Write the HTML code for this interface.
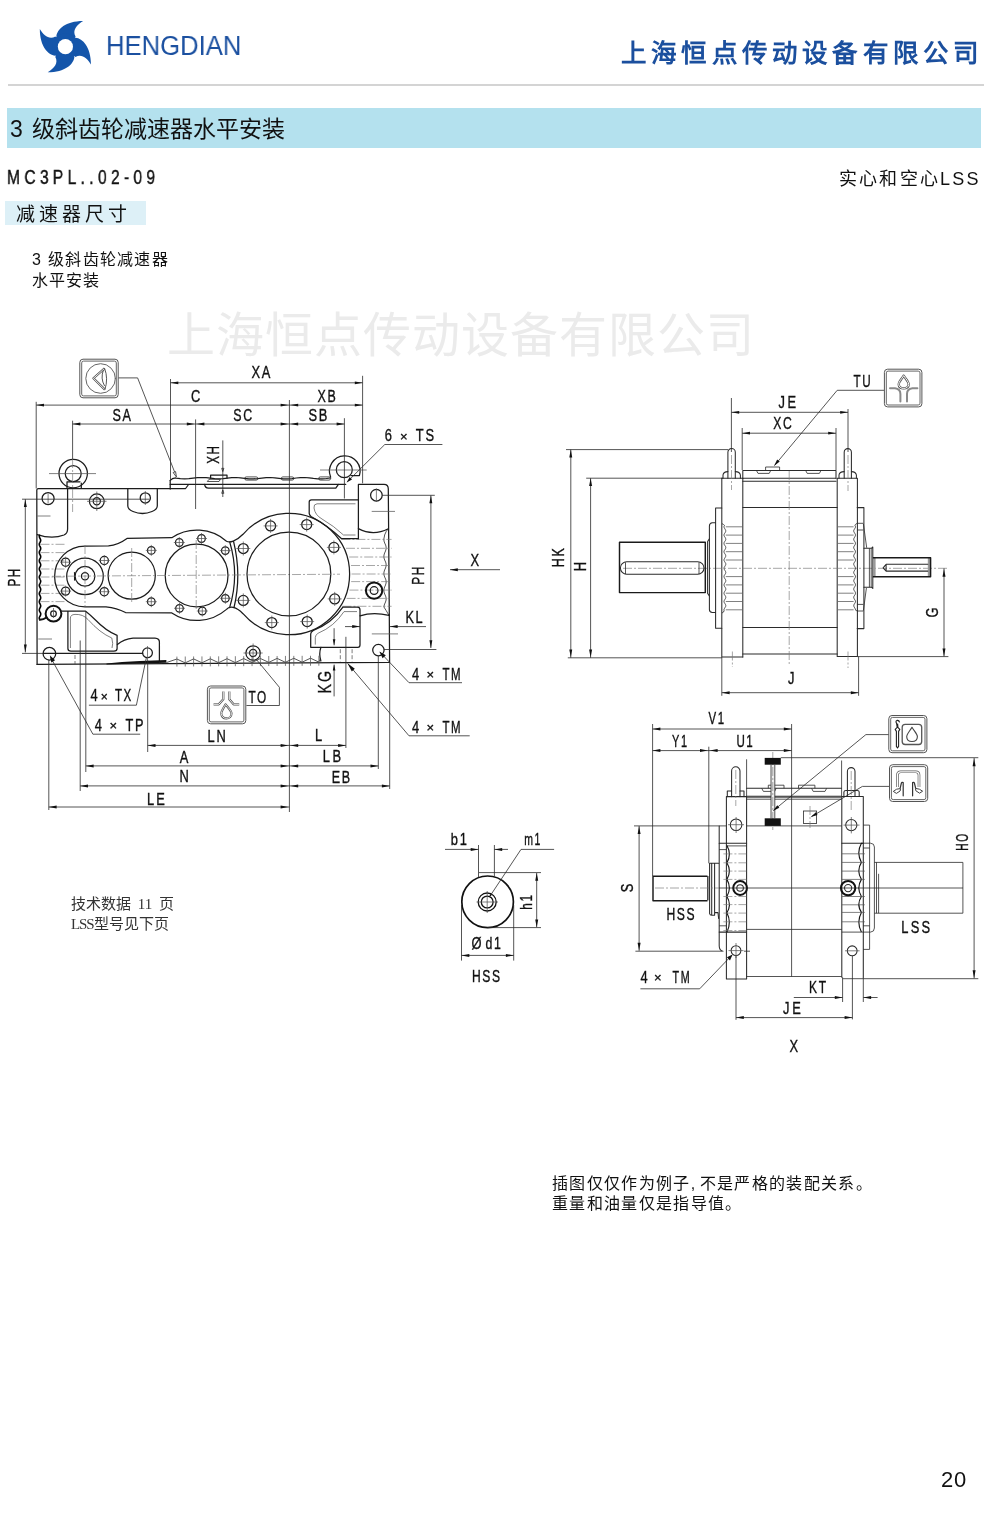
<!DOCTYPE html>
<html lang="zh-CN">
<head>
<meta charset="utf-8">
<title>3 级斜齿轮减速器水平安装 MC3PL..02-09</title>
<style>
html,body{margin:0;padding:0;background:#fff;}
body{width:990px;height:1513px;position:relative;overflow:hidden;font-family:"Liberation Sans",sans-serif;color:#111;}
.abs{position:absolute;white-space:nowrap;line-height:1;}
#brand{left:106px;top:33px;font-size:27px;color:#1b50a0;transform-origin:0 0;transform:scaleX(.95);letter-spacing:0;}
#corp{right:7px;top:41px;font-family:"Liberation Serif",serif;font-weight:bold;font-size:25.5px;color:#1b4f9e;letter-spacing:4.2px;}
#hr{left:8px;top:84.2px;width:976px;height:1.6px;background:#d4d4d4;}
#bar{left:6.5px;top:108px;width:974px;height:39.6px;background:#b4e1ee;}
#title{left:10px;top:118px;font-size:23px;word-spacing:3px;color:#111;}
#model{left:7px;top:168px;font-size:19.5px;letter-spacing:5.4px;color:#111;transform-origin:0 0;transform:scaleX(.8);-webkit-text-stroke:.4px #111;}
#lss{right:9px;top:170px;font-size:18px;letter-spacing:2.2px;color:#111;}
#sub{left:4.5px;top:201.2px;width:141px;height:24px;background:#ddf0f7;}
#subt{left:16px;top:205px;font-size:19px;letter-spacing:4px;color:#111;}
#cap1{left:32px;top:251.5px;font-size:16px;letter-spacing:1.3px;color:#111;}
#cap2{left:32px;top:272.5px;font-size:16px;letter-spacing:1.1px;color:#111;}
#wm{left:167px;top:312px;font-size:48px;color:#ebebeb;font-weight:normal;letter-spacing:1px;}
#note1{left:71px;top:895.3px;font-family:"Liberation Serif",serif;font-size:15px;color:#333;line-height:19.6px;white-space:pre;letter-spacing:0;word-spacing:3px;}
#note2{left:552px;top:1173.6px;font-size:16px;color:#111;line-height:20.2px;letter-spacing:1.35px;}
#pg{left:941px;top:1468.5px;font-size:22px;letter-spacing:.8px;color:#111;}
svg{position:absolute;left:0;top:0;}
#dwg,.abs{will-change:transform;}
.o{fill:none;stroke:#1c1c1c;stroke-width:1.25;stroke-linejoin:round;stroke-linecap:round;}
#rt-view .o,#rb-view .o{stroke-width:1.05;stroke:#2b2b2b;}
.o2{fill:none;stroke:#1a1a1a;stroke-width:1.45;stroke-linejoin:round;}
.k{fill:none;stroke:#111;stroke-width:2;stroke-linejoin:round;stroke-linecap:round;}
.t{fill:none;stroke:#2a2a2a;stroke-width:.8;}
.c{fill:none;stroke:#777;stroke-width:.65;stroke-dasharray:9 2 2 2;}
.d{fill:none;stroke:#444;stroke-width:.7;stroke-dasharray:4 2;}
.g{fill:none;stroke:#555;stroke-width:.75;}
.f{fill:#111;stroke:none;}
.lb{font-family:"Liberation Sans",sans-serif;fill:#111;stroke:#111;stroke-width:.35;}
.ib{fill:#fff;stroke:#555;stroke-width:1;}
.ig{fill:none;stroke:#666;stroke-width:1;stroke-linecap:round;stroke-linejoin:round;}
</style>
</head>
<body>
<svg id="logo" width="110" height="84" viewBox="0 0 110 84" aria-hidden="true">
 <g transform="translate(65.4 46.7)" fill="#1455aa">
  <g id="bl"><path d="M-9 -10.2C-8.3 -17.2 0 -25.5 17.7 -25.6C11.3 -21.6 6.6 -16.3 10.2 -10L0 0Z"/></g>
  <use href="#bl" transform="rotate(90)"/><use href="#bl" transform="rotate(180)"/><use href="#bl" transform="rotate(270)"/>
  <circle r="13.2"/>
  <circle r="7.6" fill="#fff"/>
 </g>
</svg>
<div id="brand" class="abs">HENGDIAN</div>
<div id="corp" class="abs">上海恒点传动设备有限公司</div>
<div id="hr" class="abs"></div>
<div id="bar" class="abs"></div>
<div id="title" class="abs">3 级斜齿轮减速器水平安装</div>
<div id="model" class="abs">MC3PL..02-09</div>
<div id="lss" class="abs">实心和空心LSS</div>
<div id="sub" class="abs"></div>
<div id="subt" class="abs">减速器尺寸</div>
<div id="cap1" class="abs">3 级斜齿轮减速器</div>
<div id="cap2" class="abs">水平安装</div>
<div id="wm" class="abs">上海恒点传动设备有限公司</div>
<svg id="dwg" width="990" height="1513" viewBox="0 0 990 1513">
<g id="left-view">
<path class="o" d="M37.1 664.4L36.8 490Q36.8 488.5 38.3 488.5H185.6L188.2 485"/>
<path class="o" d="M37.1 664.4L389.6 662.3L389.3 615.2"/>
<path class="o" d="M67.6 488.6V529Q67.6 533.5 64 535Q52 539.5 37.3 534.6"/>
<path class="g" d="M37.3 516L50.5 516"/>
<path class="g" d="M38.3 639L52 639"/>
<path class="o" style="stroke-width:1.6;stroke:#000" d="M39.5 535.2L39.3 536.2L39.5 537.3L40.0 538.3L40.5 539.3L40.7 540.3L40.5 541.4L40.0 542.4L39.4 543.4L39.3 544.5L39.5 545.5L40.0 546.5L40.6 547.6L40.7 548.6L40.5 549.6L39.9 550.6L39.4 551.7L39.3 552.7L39.5 553.7L40.1 554.8L40.6 555.8L40.7 556.8L40.5 557.8L39.9 558.9L39.4 559.9L39.3 560.9L39.5 562.0L40.1 563.0L40.6 564.0L40.7 565.0L40.5 566.1L39.9 567.1L39.4 568.1L39.3 569.2L39.5 570.2L40.1 571.2L40.6 572.3L40.7 573.3L40.4 574.3L39.9 575.3L39.4 576.4L39.3 577.4L39.6 578.4L40.1 579.5L40.6 580.5L40.7 581.5L40.4 582.5L39.9 583.6L39.4 584.6L39.3 585.6L39.6 586.7L40.1 587.7L40.6 588.7L40.7 589.8L40.4 590.8L39.9 591.8L39.4 592.8L39.3 593.9L39.6 594.9L40.2 595.9L40.6 597.0L40.7 598.0L40.4 599.0L39.8 600.0L39.4 601.1L39.3 602.1L39.6 603.1L40.2 604.2L40.6 605.2L40.7 606.2L40.4 607.2L39.8 608.3L39.4 609.3L39.3 610.3L39.6 611.4L40.2 612.4L40.7 613.4L40.7 614.5L40.4 615.5L39.8 616.5L39.3 617.5L39.3 618.6L39.6 619.6"/>
<path class="c" d="M40.5 544.3L66.5 544.3"/>
<path class="c" d="M40.5 552.6L66.5 552.6"/>
<path class="c" d="M40.5 560.8L66.5 560.8"/>
<path class="c" d="M40.5 569L66.5 569"/>
<path class="c" d="M40.5 577L66.5 577"/>
<path class="c" d="M40.5 585.2L66.5 585.2"/>
<path class="c" d="M40.5 593.4L66.5 593.4"/>
<path class="c" d="M40.5 601.6L66.5 601.6"/>
<circle class="o" cx="73.2" cy="473.6" r="14.2"/>
<circle class="o" cx="73.2" cy="473.6" r="8"/>
<path class="g" d="M49 473.6L96 473.6"/>
<path class="o" d="M67 481.8V488.4M81.3 483V488.4M67 481.8H80"/>
<circle class="o" cx="48.1" cy="498.5" r="6"/>
<path class="g" d="M48.1 493.5L48.1 503.5"/>
<circle class="o" cx="96.8" cy="501.3" r="7.4"/>
<circle class="o" cx="96.8" cy="501.3" r="3.6"/>
<path class="g" d="M87 501.3L106.5 501.3"/>
<path class="g" d="M96.8 491.5L96.8 511"/>
<circle class="o" cx="145.3" cy="497.9" r="5.1"/>
<path class="g" d="M145.3 491L145.3 505"/>
<path class="o" d="M127.8 488.6V506Q128 509.5 133 511.5Q142.5 515.5 152 511.5Q157.1 509.5 157.3 506V488.6"/>
<path class="o" d="M170.2 489V480.4"/>
<path class="o" d="M170.2 484.4H345.7"/>
<path class="o" d="M204.6 484.4Q205 488.1 208.5 488.1H335.8L338.4 484.4"/>
<path class="o" d="M170.2 480.5Q172 478 175.8 477.9L176.0 478.2L180.3 478.7L184.6 478.9L188.9 478.7L193.2 478.2L197.5 477.7L201.8 477.5L206.1 477.7L210.4 478.2L214.7 478.7L218.9 478.9L223.2 478.6L227.5 478.1L231.8 477.7L236.1 477.5L240.4 477.8L244.7 478.3L249.0 478.8L253.3 478.9L257.6 478.6L261.9 478.1L266.2 477.6L270.5 477.5L274.8 477.8L279.1 478.3L283.4 478.8L287.7 478.9L292.0 478.6L296.2 478.0L300.5 477.6L304.8 477.5L309.1 477.8L313.4 478.4L317.7 478.8L322.0 478.9L326.3 478.5L330.6 478.0"/>
<path class="o" d="M210.6 478.2V475.2H227V478.2"/>
<path class="t" d="M207.3 481.5L209 479.3H220.4L219 481.5Z"/>
<rect class="t" x="244.7" y="476.9" width="13.1" height="3.2" rx="1.6"/>
<rect class="t" x="281.3" y="476.9" width="12.5" height="3.2" rx="1.6"/>
<rect class="t" x="318.7" y="476.9" width="11.9" height="3.2" rx="1.6"/>
<path class="o" d="M330.6 476.9A15.3 15.3 0 1 1 359.4 475.6H351"/>
<circle class="o" cx="344.3" cy="469.7" r="8"/>
<path class="g" d="M320 470L366.7 470"/>
<path class="o" d="M358.4 538.7V484.4H384Q388.3 484.4 388.3 489L389.3 615.2"/>
<path class="o" d="M358.4 528.6Q373 536.4 388.3 528.7"/>
<circle class="o" cx="376.4" cy="495.2" r="5.8"/>
<path class="g" d="M376.4 488.5L376.4 502"/>
<path class="g" d="M371.7 511.4L395 511.4"/>
<path class="t" d="M388.3 528.7L386.2 531.5L384.6 535.0L384.3 537.0L384.0 538.0L383.9 539.0L383.9 540.0L384.0 541.0L384.3 542.0L384.7 543.0L385.1 544.0L385.6 545.0L385.9 546.0L386.1 547.0L386.1 548.0L386.1 549.0L385.8 550.0L385.5 551.0L385.1 552.0L384.6 553.0L384.3 554.0L384.0 555.0L383.9 556.0L383.9 557.0L384.0 558.0L384.3 559.0L384.7 560.0L385.1 561.0L385.6 562.0L385.9 563.0L386.1 564.0L386.1 565.0L386.1 566.0L385.8 567.0L385.5 568.0L385.1 569.0L384.6 570.0L384.3 571.0L384.0 572.0L383.9 573.0L383.9 574.0L384.0 575.0L384.3 576.0L384.7 577.0L385.1 578.0L385.6 579.0L385.9 580.0L386.1 581.0L386.1 582.0L386.1 583.0L385.8 584.0L385.5 585.0L385.1 586.0L384.6 587.0L384.3 588.0L384.0 589.0L383.9 590.0L383.9 591.0L384.0 592.0L384.3 593.0L384.7 594.0L385.1 595.0L385.6 596.0L385.9 597.0L386.1 598.0L386.1 599.0L386.1 600.0L385.8 601.0L385.5 602.0L385.1 603.0L384.6 604.0L384.3 605.0L384.0 606.0L383.9 607.0L386.2 610.6L388.9 615.2"/>
<path class="c" d="M341.4 539.4L391.6 539.4"/>
<path class="c" d="M345.993 548.3L391.6 548.3"/>
<path class="c" d="M349.212 557L391.6 557"/>
<path class="c" d="M351.012 565.5L391.6 565.5"/>
<path class="c" d="M351.6 574L391.6 574"/>
<path class="c" d="M351.13 581.6L391.6 581.6"/>
<path class="c" d="M349.462 590.1L391.6 590.1"/>
<path class="c" d="M346.57 598.4L391.6 598.4"/>
<path class="c" d="M342.47 606.3L391.6 606.3"/>
<path class="o" d="M358.5 499.8H311.5Q309.2 499.8 309.2 502V513.4Q309.3 515 311 516.5 Q327 525 341.6 538.7H358.5"/>
<path class="g" d="M355.5 503.8H317Q313.5 504 314 508 Q315 515 322 519Q334 526 343.5 535H355.5"/>
<circle class="k" cx="374.1" cy="590.6" r="8.2"/>
<circle class="o" cx="374.1" cy="590.6" r="3.9"/>
<path class="o" d="M360 615.8Q373 611.6 389 615.3"/>
<path class="o" d="M342.9 607.2H357.3Q360 607.2 360 610V645Q360 647.3 357.8 647.3H310.7V634Q310.7 632 313.3 630.4A62.5 62.5 0 0 0 342.9 607.2"/>
<path class="g" d="M315.3 644.6V637.5Q315.3 635 318 633.3A58 58 0 0 0 344 611.6H357"/>
<path class="o" d="M320.9 647.3Q318.6 654 320.9 661"/>
<path class="d" d="M340.3 649.2L340.3 661.5"/>
<path class="d" d="M352.1 649.2L352.1 661.5"/>
<circle class="o" cx="378.4" cy="650.1" r="5.7"/>
<path class="g" d="M371.8 633.9L398 633.9"/>
<path class="o" d="M85 546L108.5 545.8Q118 545 127 538.4L171.8 537.7A45.2 45.2 0 0 1 226.5 541.2C229.5 543 236 541.5 243 534.3A60.7 60.7 0 1 1 243 613.7C236 606.5 229.5 605.5 226.5 609.4A45.2 45.2 0 0 1 171.8 612.9L125.5 612.5Q117 608 106 606.8L85 606.8A30.4 30.4 0 0 1 85 546Z"/>
<path class="o" d="M229.8 542.2Q239.6 575 229.6 607.6"/>
<path class="o" d="M233.6 541.6Q241.8 575 234 607.6"/>
<circle class="o" cx="85" cy="576.3" r="18.3"/>
<circle class="o" cx="85" cy="576.3" r="9.9"/>
<circle class="o" cx="85" cy="576.3" r="3.6"/>
<path class="o" d="M74.6 572.6V580"/>
<circle class="o" cx="131.7" cy="575.6" r="23.6"/>
<circle class="o" cx="196.6" cy="575.4" r="31.4"/>
<circle class="o" cx="288.9" cy="574" r="41.9"/>
<circle class="o" cx="65.6" cy="562.2" r="4.1"/>
<path class="g" d="M60.1 562.2L71.1 562.2"/>
<path class="g" d="M65.6 556.7L65.6 567.7"/>
<circle class="o" cx="104.3" cy="560.5" r="4.1"/>
<path class="g" d="M98.8 560.5L109.8 560.5"/>
<path class="g" d="M104.3 555L104.3 566"/>
<circle class="o" cx="65.6" cy="591.1" r="4.1"/>
<path class="g" d="M60.1 591.1L71.1 591.1"/>
<path class="g" d="M65.6 585.6L65.6 596.6"/>
<circle class="o" cx="104.3" cy="591.7" r="4.1"/>
<path class="g" d="M98.8 591.7L109.8 591.7"/>
<path class="g" d="M104.3 586.2L104.3 597.2"/>
<circle class="o" cx="151.3" cy="550.4" r="3.8"/>
<path class="g" d="M145.8 550.4L156.8 550.4"/>
<path class="g" d="M151.3 544.9L151.3 555.9"/>
<circle class="o" cx="151.3" cy="601.7" r="3.8"/>
<path class="g" d="M145.8 601.7L156.8 601.7"/>
<path class="g" d="M151.3 596.2L151.3 607.2"/>
<circle class="o" cx="179.3" cy="542.5" r="3.8"/>
<path class="g" d="M173.8 542.5L184.8 542.5"/>
<path class="g" d="M179.3 537L179.3 548"/>
<circle class="o" cx="201.5" cy="538.5" r="3.8"/>
<path class="g" d="M196 538.5L207 538.5"/>
<path class="g" d="M201.5 533L201.5 544"/>
<circle class="o" cx="179.5" cy="608.3" r="3.8"/>
<path class="g" d="M174 608.3L185 608.3"/>
<path class="g" d="M179.5 602.8L179.5 613.8"/>
<circle class="o" cx="202.3" cy="611" r="3.8"/>
<path class="g" d="M196.8 611L207.8 611"/>
<path class="g" d="M202.3 605.5L202.3 616.5"/>
<circle class="o" cx="225.3" cy="550.6" r="3.8"/>
<path class="g" d="M219.8 550.6L230.8 550.6"/>
<path class="g" d="M225.3 545.1L225.3 556.1"/>
<circle class="o" cx="225.4" cy="598.3" r="3.8"/>
<path class="g" d="M219.9 598.3L230.9 598.3"/>
<path class="g" d="M225.4 592.8L225.4 603.8"/>
<circle class="o" cx="270.6" cy="525.9" r="5"/>
<path class="g" d="M263.6 525.9L277.6 525.9"/>
<path class="g" d="M270.6 518.9L270.6 532.9"/>
<circle class="o" cx="306.7" cy="524.6" r="5"/>
<path class="g" d="M299.7 524.6L313.7 524.6"/>
<path class="g" d="M306.7 517.6L306.7 531.6"/>
<circle class="o" cx="243.3" cy="548.5" r="5"/>
<path class="g" d="M236.3 548.5L250.3 548.5"/>
<path class="g" d="M243.3 541.5L243.3 555.5"/>
<circle class="o" cx="333.9" cy="547.4" r="5"/>
<path class="g" d="M326.9 547.4L340.9 547.4"/>
<path class="g" d="M333.9 540.4L333.9 554.4"/>
<circle class="o" cx="243.3" cy="600.4" r="5"/>
<path class="g" d="M236.3 600.4L250.3 600.4"/>
<path class="g" d="M243.3 593.4L243.3 607.4"/>
<circle class="o" cx="334.7" cy="598.9" r="5"/>
<path class="g" d="M327.7 598.9L341.7 598.9"/>
<path class="g" d="M334.7 591.9L334.7 605.9"/>
<circle class="o" cx="271.8" cy="622.6" r="5"/>
<path class="g" d="M264.8 622.6L278.8 622.6"/>
<path class="g" d="M271.8 615.6L271.8 629.6"/>
<circle class="o" cx="307.2" cy="621.6" r="5"/>
<path class="g" d="M300.2 621.6L314.2 621.6"/>
<path class="g" d="M307.2 614.6L307.2 628.6"/>
<path class="c" d="M52 576.3L340 574.2"/>
<path class="c" d="M85 545L85 606"/>
<path class="c" d="M131.7 548L131.7 603"/>
<path class="c" d="M196.2 540L196.2 610"/>
<circle class="k" cx="53.5" cy="613.7" r="7.9"/>
<circle class="o" cx="53.5" cy="613.7" r="2.8"/>
<path class="g" d="M53.5 608L53.5 618"/>
<path class="k" d="M40 619.8Q43.5 619.5 46.5 617.5"/>
<path class="o" d="M61.5 611H85.3Q90 614.5 95.2 619.8Q106 631 117.1 635.4V648.5Q117 651.2 114 651.2H71Q67.9 651.2 67.9 648.5V611"/>
<path class="g" d="M70.4 648V618Q70.5 614.6 75 614.4Q83 614 88 619.5Q100 633 111.8 638Q113.5 644 112 648"/>
<path class="o" d="M117.4 644.5Q124 639 133 638.2H155Q159.4 638.5 159.4 642V661.5"/>
<circle class="o" cx="49.4" cy="653.7" r="6.3"/>
<circle class="o" cx="147.5" cy="652.8" r="4.9"/>
<path class="o" d="M43.4 653.4H142.6"/>
<path class="g" d="M147.5 646L147.5 660"/>
<path class="d" d="M75 655L75 664"/>
<path class="f" d="M106.5 663.6L122 661.9L140 660.9L166.4 660.1L166.4 662.7L140 663.6L122 664.1L106.5 664.4Z"/>
<path class="t" d="M166.4 662.6L176.9 659.0L185.2 662.9L193.6 658.9L201.9 662.8L210.3 658.8L218.6 662.7L227.0 658.7L235.3 662.6L243.7 658.6L252.0 662.5L260.4 658.5L268.8 662.4L277.1 658.4L285.4 662.3L293.8 658.3L302.1 662.2L310.5 658.2L318.8 662.1L320.6 658.1"/>
<path class="g" d="M176.9 656.567L176.9 666.567"/>
<path class="g" d="M185.25 656.517L185.25 666.517"/>
<path class="g" d="M193.6 656.468L193.6 666.468"/>
<path class="g" d="M201.95 656.418L201.95 666.418"/>
<path class="g" d="M210.3 656.368L210.3 666.368"/>
<path class="g" d="M218.65 656.318L218.65 666.318"/>
<path class="g" d="M227 656.269L227 666.269"/>
<path class="g" d="M235.35 656.219L235.35 666.219"/>
<path class="g" d="M243.7 656.169L243.7 666.169"/>
<path class="g" d="M252.05 656.119L252.05 666.119"/>
<path class="g" d="M260.4 656.07L260.4 666.07"/>
<path class="g" d="M268.75 656.02L268.75 666.02"/>
<path class="g" d="M277.1 655.97L277.1 665.97"/>
<path class="g" d="M285.45 655.92L285.45 665.92"/>
<path class="g" d="M293.8 655.871L293.8 665.871"/>
<path class="g" d="M302.15 655.821L302.15 665.821"/>
<path class="g" d="M310.5 655.771L310.5 665.771"/>
<path class="g" d="M318.85 655.721L318.85 665.721"/>
<circle class="o" cx="253.1" cy="653" r="7.2"/>
<circle class="o" cx="253.1" cy="653" r="3.6"/>
<path class="g" d="M243.5 653L262.7 653"/>
<path class="g" d="M253.1 643.5L253.1 662.5"/>
</g>
<g id="left-dims">
<path class="t" d="M170.5 379L170.5 481"/>
<path class="t" d="M362.6 375.8L362.6 483.3"/>
<path class="t" d="M170.5 382.8L362.6 382.8"/>
<path class="f" d="M170.5 382.8L178.3 381.4L178.3 384.2Z"/>
<path class="f" d="M362.6 382.8L354.8 384.2L354.8 381.4Z"/>
<text class="lb" transform="translate(251.5 377.9) scale(0.81 1)" font-size="15.9" letter-spacing="2.00">XA</text>
<path class="t" d="M36.2 401.8L36.2 488.4"/>
<path class="t" d="M36.2 405.1L362.6 405.1"/>
<path class="f" d="M36.2 405.1L44.0 403.7L44.0 406.6Z"/>
<path class="f" d="M288.4 405.1L280.6 406.6L280.6 403.7Z"/>
<path class="f" d="M290.4 405.1L298.2 403.7L298.2 406.6Z"/>
<path class="f" d="M362.6 405.1L354.8 406.6L354.8 403.7Z"/>
<text class="lb" transform="translate(191 401.8) scale(0.81 1)" font-size="15.9" letter-spacing="0.00">C</text>
<text class="lb" transform="translate(317.6 401.5) scale(0.783 1)" font-size="15.9" letter-spacing="2.03">XB</text>
<path class="t" d="M72.6 420.7L72.6 459"/>
<path class="c" d="M72.6 459L72.6 512"/>
<path class="t" d="M195.6 419.4L195.6 509"/>
<path class="t" d="M344.4 418.2L344.4 498.5"/>
<path class="t" d="M72.6 424L344.4 424"/>
<path class="f" d="M72.6 424.0L80.4 422.6L80.4 425.4Z"/>
<path class="f" d="M194.6 424.0L186.8 425.4L186.8 422.6Z"/>
<path class="f" d="M196.6 424.0L204.4 422.6L204.4 425.4Z"/>
<path class="f" d="M288.4 424.0L280.6 425.4L280.6 422.6Z"/>
<path class="f" d="M290.4 424.0L298.2 422.6L298.2 425.4Z"/>
<path class="f" d="M344.4 424.0L336.6 425.4L336.6 422.6Z"/>
<text class="lb" transform="translate(112.4 421) scale(0.792 1)" font-size="15.9" letter-spacing="2.02">SA</text>
<text class="lb" transform="translate(233.3 421) scale(0.779 1)" font-size="15.9" letter-spacing="2.05">SC</text>
<text class="lb" transform="translate(308.5 421) scale(0.81 1)" font-size="15.9" letter-spacing="2.00">SB</text>
<path class="t" d="M289.4 400L289.4 812"/>
<path class="t" d="M222.8 440.4L222.8 497"/>
<path class="t" d="M222.8 471.6L221.7 468.3H223.9ZM222.8 490L221.7 493.3H223.9Z"/>
<text class="lb" transform="translate(219.4 463.8) rotate(-90) scale(0.678 1)" font-size="17.2" letter-spacing="2.36">XH</text>
<text class="lb" transform="translate(384.8 441) scale(0.81 1)" font-size="15.9" letter-spacing="0.00">6</text>
<text class="lb" transform="translate(400 440.6) scale(1 1)" font-size="13" letter-spacing="0.00">×</text>
<text class="lb" transform="translate(415.8 441) scale(0.81 1)" font-size="15.9" letter-spacing="2.15">TS</text>
<path class="t" d="M384.8 444.5L442.4 444.5"/>
<path class="t" d="M384.8 444.5L347.5 481.6"/>
<path class="f" d="M346.6 482.5L349.7 477.1L352.0 479.4Z"/>
<path class="t" d="M25.3 499.2L25.3 652.4"/>
<path class="f" d="M25.3 499.2L26.8 507.0L23.9 507.0Z"/>
<path class="f" d="M25.3 652.4L23.9 644.6L26.8 644.6Z"/>
<path class="t" d="M22 499.2L149.5 499.2"/>
<path class="t" d="M22 653.4L43.4 653.4"/>
<text class="lb" transform="translate(20.2 586.6) rotate(-90) scale(0.733 1)" font-size="15.9" letter-spacing="2.20">PH</text>
<path class="t" d="M430.9 495.4L430.9 648"/>
<path class="f" d="M430.9 495.4L432.3 503.2L429.4 503.2Z"/>
<path class="f" d="M430.9 648.0L429.4 640.2L432.3 640.2Z"/>
<path class="t" d="M382.2 495.3L434.8 495.3"/>
<path class="t" d="M383.9 649.5L436.4 649.5"/>
<text class="lb" transform="translate(424 584.8) rotate(-90) scale(0.742 1)" font-size="15.9" letter-spacing="2.17">PH</text>
<path class="t" d="M450 569.7L500 569.7"/>
<path class="f" d="M450.0 569.7L457.8 568.2L457.8 571.2Z"/>
<text class="lb" transform="translate(470.6 565.8) scale(0.81 1)" font-size="15.9" letter-spacing="0.00">X</text>
<path class="t" d="M345 626.6L360 626.6"/>
<path class="f" d="M360.0 626.6L352.2 628.1L352.2 625.1Z"/>
<path class="t" d="M389.8 626.6L426 626.6"/>
<path class="f" d="M389.8 626.6L397.6 625.1L397.6 628.1Z"/>
<text class="lb" transform="translate(405.5 623) scale(0.802 1)" font-size="15.9" letter-spacing="2.00">KL</text>
<path class="t" d="M334.1 628.2L334.1 645.3"/>
<path class="f" d="M334.1 645.3L332.8 639.3L335.4 639.3Z"/>
<path class="t" d="M334.1 664.6L334.1 696.4"/>
<path class="f" d="M334.1 664.6L335.4 670.6L332.8 670.6Z"/>
<text class="lb" transform="translate(331 693.4) rotate(-90) scale(0.81 1)" font-size="17.6" letter-spacing="2.35">KG</text>
<path class="t" d="M345.9 636.8L345.9 748"/>
<text class="lb" transform="translate(412 679.7) scale(0.81 1)" font-size="15.9" letter-spacing="0.00">4</text>
<text class="lb" transform="translate(426.5 679.3) scale(1 1)" font-size="13" letter-spacing="0.00">×</text>
<text class="lb" transform="translate(442.4 679.7) scale(0.723 1)" font-size="15.9" letter-spacing="2.22">TM</text>
<path class="t" d="M409 682.7L462 682.7"/>
<path class="t" d="M409 682.7L380 652.2"/>
<path class="f" d="M379.4 651.6L385.8 655.2L382.6 658.2Z"/>
<text class="lb" transform="translate(412 732.7) scale(0.81 1)" font-size="15.9" letter-spacing="0.00">4</text>
<text class="lb" transform="translate(426.5 732.3) scale(1 1)" font-size="13" letter-spacing="0.00">×</text>
<text class="lb" transform="translate(442.4 732.7) scale(0.723 1)" font-size="15.9" letter-spacing="2.22">TM</text>
<path class="t" d="M409 735.8L469.7 735.8"/>
<path class="t" d="M409 735.8L347.8 663.6"/>
<path class="f" d="M347.5 663.2L354.8 668.8L351.8 671.4Z"/>
<path class="t" d="M378.3 656L378.3 769"/>
<path class="t" d="M389.7 662.6L389.7 789"/>
<path class="t" d="M147.7 660L147.7 752"/>
<path class="t" d="M147.7 745.4L345.9 745.4"/>
<path class="f" d="M147.7 745.4L155.5 743.9L155.5 746.9Z"/>
<path class="f" d="M288.4 745.4L280.6 746.9L280.6 743.9Z"/>
<path class="f" d="M290.4 745.4L298.2 743.9L298.2 746.9Z"/>
<path class="f" d="M345.9 745.4L338.1 746.9L338.1 743.9Z"/>
<text class="lb" transform="translate(207.6 742.2) scale(0.81 1)" font-size="15.9" letter-spacing="2.27">LN</text>
<text class="lb" transform="translate(315 741.2) scale(0.81 1)" font-size="15.9" letter-spacing="0.00">L</text>
<path class="t" d="M85.8 611L85.8 772"/>
<path class="t" d="M85.8 765.9L378.3 765.9"/>
<path class="f" d="M85.8 765.9L93.6 764.4L93.6 767.4Z"/>
<path class="f" d="M288.4 765.9L280.6 767.4L280.6 764.4Z"/>
<path class="f" d="M290.4 765.9L298.2 764.4L298.2 767.4Z"/>
<path class="f" d="M378.3 765.9L370.5 767.4L370.5 764.4Z"/>
<text class="lb" transform="translate(179.8 763.3) scale(0.81 1)" font-size="15.9" letter-spacing="0.00">A</text>
<text class="lb" transform="translate(322.7 761.5) scale(0.81 1)" font-size="15.9" letter-spacing="3.14">LB</text>
<path class="t" d="M80.2 640.5L80.2 791"/>
<path class="t" d="M80.2 785.9L389.7 785.9"/>
<path class="f" d="M80.2 785.9L88.0 784.4L88.0 787.4Z"/>
<path class="f" d="M288.4 785.9L280.6 787.4L280.6 784.4Z"/>
<path class="f" d="M290.4 785.9L298.2 784.4L298.2 787.4Z"/>
<path class="f" d="M389.7 785.9L381.9 787.4L381.9 784.4Z"/>
<text class="lb" transform="translate(179.6 782.3) scale(0.81 1)" font-size="15.9" letter-spacing="0.00">N</text>
<text class="lb" transform="translate(331.8 782.7) scale(0.787 1)" font-size="15.9" letter-spacing="2.04">EB</text>
<path class="t" d="M48.8 660L48.8 810"/>
<path class="t" d="M48.8 807L289.4 807"/>
<path class="f" d="M48.8 807.0L56.6 805.5L56.6 808.5Z"/>
<path class="f" d="M288.4 807.0L280.6 808.5L280.6 805.5Z"/>
<text class="lb" transform="translate(147 805) scale(0.81 1)" font-size="15.9" letter-spacing="2.53">LE</text>
<text class="lb" transform="translate(90.4 701.4) scale(0.81 1)" font-size="15.9" letter-spacing="0.00">4</text>
<text class="lb" transform="translate(100.8 701) scale(1 1)" font-size="12" letter-spacing="0.00">×</text>
<text class="lb" transform="translate(114.9 701.4) scale(0.728 1)" font-size="15.9" letter-spacing="2.21">TX</text>
<path class="t" d="M88.9 705.2L136.4 705.2"/>
<path class="t" d="M136.4 705.2L146.3 658"/>
<text class="lb" transform="translate(94.7 730.5) scale(0.81 1)" font-size="15.9" letter-spacing="0.00">4</text>
<text class="lb" transform="translate(109.6 730) scale(1 1)" font-size="13" letter-spacing="0.00">×</text>
<text class="lb" transform="translate(125.5 730.5) scale(0.802 1)" font-size="15.9" letter-spacing="2.00">TP</text>
<path class="t" d="M92.9 734.2L140.2 734.2"/>
<path class="t" d="M92.9 734.2L50.6 657.4"/>
<path class="f" d="M49.8 655.2L55.1 660.3L51.3 662.4Z"/>
<text class="lb" transform="translate(248.5 703) scale(0.743 1)" font-size="15.9" letter-spacing="2.16">TO</text>
<path class="t" d="M246.4 705.5L279.4 705.5"/>
<path class="t" d="M279.4 705.5L279.4 687.3"/>
<path class="t" d="M279.4 687.3L256.4 659.5"/>
<path class="t" d="M118.2 377.9L137.6 377.9"/>
<path class="t" d="M137.6 377.9L175.4 474"/>
<path class="t" d="M176.4 476.9L173.2 472.6L175.6 471.6Z" style="fill:#fff"/>
</g>
<g id="rt-view">
<path class="o" d="M721.8 478.2V657H742.8"/>
<path class="o" d="M742.8 478.2V657"/>
<path class="o" d="M721.8 478.2H742.8"/>
<path class="o" d="M727.9 478.2V452.2A3.7 3.7 0 0 1 735.3 452.2V478.2"/>
<path class="o" d="M723 478.2V475Q723.4 471.6 727.9 471.6M735.3 471.6Q739.8 471.6 740.4 475V478.2"/>
<path class="c" d="M731.5 455L731.5 490"/>
<path class="o" d="M742.8 478.2V470.4H836V478.2"/>
<path class="o" d="M742.8 478.2H836M742.8 481.2H836"/>
<path class="t" d="M756.4 470.4L758 473.4H769.2L770.8 470.4"/>
<path class="t" d="M805.6 470.4L807.2 473.4H819.4L821 470.4"/>
<path class="t" d="M765.6 470.4V467H779.6V470.4"/>
<path class="o" d="M742.8 507.4H837.2M742.8 627.5H837.2M742.8 654H837.2"/>
<path class="o" d="M837.2 478.2V656.4H857.4V478.2Z"/>
<path class="o" d="M844.2 478.2V452.2A3.6 3.6 0 0 1 851.4 452.2V478.2"/>
<path class="o" d="M839 478.2V475Q839.4 471.6 844.2 471.6M851.4 471.6Q855.8 471.6 856.4 475V478.2"/>
<path class="c" d="M848 455L848 491"/>
<path class="c" d="M789.2 471L789.2 664"/>
<path class="c" d="M623 568.3L948.5 568.3"/>
<path class="o" d="M721.8 507.9H715.6V628.2H721.8"/>
<path class="o" d="M715.6 522.7H712.4Q709.4 523 709.4 526V609.5Q709.4 612.2 712.4 612.5H715.6"/>
<path class="o" d="M709.4 538.9L707.6 541.5V593.4L709.4 596"/>
<path class="o2" d="M619.5 542.2H705.3V592.6H619.5Z"/>
<rect class="o" x="620.4" y="561.7" width="83.6" height="12.6" rx="6.3"/>
<path class="t" d="M625.5 562.4L625.5 574.2"/>
<path class="t" d="M699 562.4L699 574.2"/>
<path class="t" d="M722.0 523.6L723.6 524.6L724.5 525.4L724.0 526.4L724.1 527.4L724.6 528.4L725.2 529.4L725.7 530.4L725.7 531.4L725.3 532.4L724.6 533.4L724.1 534.4L724.0 535.4L724.4 536.4L725.1 537.4L725.6 538.4L725.8 539.4L725.5 540.4L724.8 541.4L724.2 542.4L724.0 543.4L724.2 544.4L724.8 545.4L725.5 546.4L725.8 547.4L725.6 548.4L725.1 549.4L724.4 550.4L724.0 551.4L724.1 552.4L724.6 553.4L725.3 554.4L725.7 555.4L725.7 556.4L725.2 557.4L724.6 558.4L724.1 559.4L724.0 560.4L724.5 561.4L725.1 562.4L725.7 563.4L725.8 564.4L725.4 565.4L724.8 566.4L724.2 567.4L724.0 568.4L724.3 569.4L724.9 570.4L725.5 571.4L725.8 572.4L725.6 573.4L725.0 574.4L724.3 575.4L724.0 576.4L724.2 577.4L724.7 578.4L725.4 579.4L725.8 580.4L725.7 581.4L725.2 582.4L724.5 583.4L724.1 584.4L724.1 585.4L724.5 586.4L725.2 587.4L725.7 588.4L725.8 589.4L725.4 590.4L724.7 591.4L724.2 592.4L724.0 593.4L724.3 594.4L725.0 595.4L725.6 596.4L725.8 597.4L725.5 598.4L724.9 599.4L724.3 600.4L724.0 601.4L724.2 602.4L724.8 603.4L725.4 604.4L725.8 605.4L725.7 606.4L725.1 607.4L724.5 608.4L724.0 609.4L724.1 610.4L723.6 612.0L722.0 613.0"/>
<path class="g" d="M725.8 526.8L742.2 526.8"/>
<path class="g" d="M725.8 535.1L742.2 535.1"/>
<path class="g" d="M725.8 543.4L742.2 543.4"/>
<path class="g" d="M725.8 551.7L742.2 551.7"/>
<path class="g" d="M725.8 560L742.2 560"/>
<path class="g" d="M725.8 576.6L742.2 576.6"/>
<path class="g" d="M725.8 584.9L742.2 584.9"/>
<path class="g" d="M725.8 593.2L742.2 593.2"/>
<path class="g" d="M725.8 601.5L742.2 601.5"/>
<path class="g" d="M725.8 609.8L742.2 609.8"/>
<path class="o" d="M857.2 507.6H863.9V628.6H857.2"/>
<path class="t" d="M857.2 523.3L855.6 524.3L854.9 525.2L855.4 526.2L855.5 527.2L855.0 528.2L854.4 529.2L853.8 530.2L853.7 531.2L854.1 532.2L854.7 533.2L855.3 534.2L855.5 535.2L855.2 536.2L854.6 537.2L854.0 538.2L853.7 539.2L853.9 540.2L854.5 541.2L855.2 542.2L855.5 543.2L855.3 544.2L854.8 545.2L854.1 546.2L853.7 547.2L853.8 548.2L854.3 549.2L855.0 550.2L855.4 551.2L855.4 552.2L855.0 553.2L854.3 554.2L853.8 555.2L853.7 556.2L854.1 557.2L854.8 558.2L855.3 559.2L855.5 560.2L855.2 561.2L854.5 562.2L853.9 563.2L853.7 564.2L854.0 565.2L854.6 566.2L855.2 567.2L855.5 568.2L855.3 569.2L854.7 570.2L854.1 571.2L853.7 572.2L853.8 573.2L854.4 574.2L855.0 575.2L855.5 576.2L855.4 577.2L854.9 578.2L854.3 579.2L853.8 580.2L853.8 581.2L854.2 582.2L854.9 583.2L855.4 584.2L855.5 585.2L855.1 586.2L854.4 587.2L853.9 588.2L853.7 589.2L854.0 590.2L854.7 591.2L855.3 592.2L855.5 593.2L855.3 594.2L854.7 595.2L854.0 596.2L853.7 597.2L853.9 598.2L854.4 599.2L855.1 600.2L855.5 601.2L855.4 602.2L854.9 603.2L854.2 604.2L853.8 605.2L853.8 606.2L854.3 607.2L854.9 608.2L855.4 609.2L855.6 610.2L857.2 611.0"/>
<path class="g" d="M838 526.8L853.6 526.8"/>
<path class="g" d="M838 535.1L853.6 535.1"/>
<path class="g" d="M838 543.4L853.6 543.4"/>
<path class="g" d="M838 551.7L853.6 551.7"/>
<path class="g" d="M838 560L853.6 560"/>
<path class="g" d="M838 576.6L853.6 576.6"/>
<path class="g" d="M838 584.9L853.6 584.9"/>
<path class="g" d="M838 593.2L853.6 593.2"/>
<path class="g" d="M838 601.5L853.6 601.5"/>
<path class="g" d="M838 609.8L853.6 609.8"/>
<path class="t" d="M857.2 523.3H863.3M857.2 611H863.3M857.2 530H863.3M857.2 604.4H863.3"/>
<path class="t" d="M863.4 523.9L866.7 547.8M863.4 610.6L866.4 588"/>
<path class="o" d="M863.9 548.3H871.4L872.8 547V588.4L871.4 587.2H863.9"/>
<path class="t" d="M869.4 548.3L869.4 587.2"/>
<path class="t" d="M871.2 548.3L871.2 587.2"/>
<rect x="872.8" y="557.7" width="2.8" height="19" fill="#999"/>
<rect x="927.8" y="557.7" width="2.8" height="19" fill="#999"/>
<path class="o2" d="M872.8 557.7H930.6V576.7H872.8"/>
<path class="o" d="M883.1 567.8L886.1 564.3H927.8M883.1 567.8L886.1 571.1H927.8M886.1 564.3V571.1"/>
<path class="c" d="M732.4 651.5L732.4 667"/>
<path class="c" d="M848 651.5L848 668"/>
</g>
<g id="rt-dims">
<path class="t" d="M731.4 398L731.4 452"/>
<path class="t" d="M848 409L848 452"/>
<path class="t" d="M731.4 412.3L848 412.3"/>
<path class="f" d="M731.4 412.3L739.2 410.9L739.2 413.8Z"/>
<path class="f" d="M848.0 412.3L840.2 413.8L840.2 410.9Z"/>
<text class="lb" transform="translate(778.4 407.5) scale(0.81 1)" font-size="15.9" letter-spacing="3.17">JE</text>
<path class="t" d="M742.2 428L742.2 470"/>
<path class="t" d="M836 428L836 470"/>
<path class="t" d="M742.2 433.2L836 433.2"/>
<path class="f" d="M742.2 433.2L750.0 431.8L750.0 434.6Z"/>
<path class="f" d="M836.0 433.2L828.2 434.6L828.2 431.8Z"/>
<text class="lb" transform="translate(773.3 428.7) scale(0.765 1)" font-size="15.9" letter-spacing="2.10">XC</text>
<text class="lb" transform="translate(853.6 386.5) scale(0.736 1)" font-size="15.9" letter-spacing="2.17">TU</text>
<path class="t" d="M884.4 390.3L837.2 390.3"/>
<path class="t" d="M837.2 390.3L774.6 465.4"/>
<path class="f" d="M774.0 466.0L777.2 459.6L779.7 461.6Z"/>
<path class="t" d="M566 449.6L728 449.6"/>
<path class="t" d="M570.8 449.6L570.8 657.8"/>
<path class="f" d="M570.8 449.6L572.2 457.4L569.3 457.4Z"/>
<path class="f" d="M570.8 657.2L569.3 649.4L572.2 649.4Z"/>
<text class="lb" transform="translate(564 567.2) rotate(-90) scale(0.788 1)" font-size="15.9" letter-spacing="2.02">HK</text>
<path class="t" d="M586.2 478.2L723 478.2"/>
<path class="t" d="M590.6 478.2L590.6 657.8"/>
<path class="f" d="M590.6 478.2L592.1 486.0L589.1 486.0Z"/>
<path class="f" d="M590.6 657.2L589.1 649.4L592.1 649.4Z"/>
<text class="lb" transform="translate(586 571.2) rotate(-90) scale(0.81 1)" font-size="15.9" letter-spacing="0.00">H</text>
<path class="t" d="M567.8 657.8L721.8 657.8"/>
<path class="t" d="M944 568.3L944 656.4"/>
<path class="f" d="M944.0 568.9L945.5 576.7L942.5 576.7Z"/>
<path class="f" d="M944.0 656.2L942.5 648.4L945.5 648.4Z"/>
<path class="t" d="M857.4 656.6L948.4 656.6"/>
<text class="lb" transform="translate(937.8 617.4) rotate(-90) scale(0.81 1)" font-size="15.9" letter-spacing="0.00">G</text>
<path class="t" d="M721.8 657L721.8 695.8"/>
<path class="t" d="M858.6 656.6L858.6 695.8"/>
<path class="t" d="M721.8 692.7L858.6 692.7"/>
<path class="f" d="M721.8 692.7L729.6 691.2L729.6 694.2Z"/>
<path class="f" d="M858.6 692.7L850.8 694.2L850.8 691.2Z"/>
<text class="lb" transform="translate(788 684.3) scale(0.81 1)" font-size="15.9" letter-spacing="0.00">J</text>
</g>
<g id="rb-view">
<path class="o" d="M726.4 796.6V979H746.6V796.6Z"/>
<path class="o" d="M731.6 796.6V771A4.2 4.2 0 0 1 740 771V796.6"/>
<path class="o" d="M727.3 796.6V791H731.6M740 791H744V796.6"/>
<path class="c" d="M735.8 770L735.8 806"/>
<path class="o" d="M746.6 788.3H841.5"/>
<path class="o" d="M746.6 796.3H841.5"/>
<path class="t" d="M746.6 799.2L841.5 799.2"/>
<path class="t" d="M746.6 797.3L841.5 797.3"/>
<path class="t" d="M761.7 788.3L763.4 791.4H774.6L776.2 788.3M811.6 788.3L813.2 791.4H825L826.7 788.3"/>
<path class="t" d="M768.3 788.3V785.2H784V788.3M798.5 788.3V785.2H814.9V788.3"/>
<path class="t" d="M746.6 759.3L746.6 796.6"/>
<path class="t" d="M841.6 760.5L841.6 796.6"/>
<path class="t" d="M746.6 825.9H841.8M746.6 929.4H841.8M746.6 976.5H841.8"/>
<path class="t" d="M791.6 724L791.6 976.5"/>
<rect x="771" y="764.7" width="3.8" height="53.6" fill="#eee"/>
<path class="t" d="M771 764.7L771 818.3"/>
<path class="t" d="M774.8 764.7L774.8 818.3"/>
<path class="c" d="M772.8 752L772.8 830"/>
<rect class="f" x="764.7" y="757.9" width="16.1" height="6.8"/>
<rect class="f" x="764.7" y="818.3" width="16.1" height="7.6"/>
<rect class="t" x="803.4" y="811" width="13.2" height="12.5"/>
<path class="c" d="M810 806L810 828"/>
<circle class="o" cx="736.1" cy="824.7" r="5.8"/>
<path class="g" d="M728 824.7L744 824.7"/>
<path class="g" d="M736.1 817L736.1 833"/>
<circle class="o" cx="736" cy="950.6" r="4.9"/>
<path class="g" d="M728.5 950.6L743.5 950.6"/>
<path class="g" d="M736 943L736 958"/>
<path class="o" d="M719.2 825.9V946Q719.3 950.6 723 951.2"/>
<path class="o" d="M719.2 843.2H746.6M719.2 932.1H746.6"/>
<path class="t" d="M726.4 845.9L746.6 845.9"/>
<path class="t" d="M719.2 849.6L726.4 849.6"/>
<path class="t" d="M719.2 925.8L726.4 925.8"/>
<path class="t" style="stroke:#111;stroke-width:1.1" d="M726.9 845.4Q731.9 854.1 726.9 862.8Q731.9 871.1 726.9 879.4Q731.9 888.0 726.9 896.5Q731.9 904.6 726.9 912.8Q731.9 922.5 726.9 932.2"/>
<path class="c" d="M723.4 853.9L746.3 853.9"/>
<path class="c" d="M723.4 862.8L746.3 862.8"/>
<path class="c" d="M723.4 871.1L746.3 871.1"/>
<path class="c" d="M723.4 879.4L746.3 879.4"/>
<path class="c" d="M723.4 896.5L746.3 896.5"/>
<path class="c" d="M723.4 904.6L746.3 904.6"/>
<path class="c" d="M723.4 913.1L746.3 913.1"/>
<path class="c" d="M723.4 921.8L746.3 921.8"/>
<path class="c" d="M723.4 930.5L746.3 930.5"/>
<circle class="k" cx="740.1" cy="888" r="6.9"/>
<circle class="o" cx="740.1" cy="888" r="3.3"/>
<path class="o2" d="M707.5 876.3H653V900.8H707.5"/>
<rect x="707.5" y="876" width="2.1" height="24.4" fill="#999"/>
<path class="t" d="M707.5 876L707.5 900.4"/>
<path class="o" d="M709.6 863.3H718.6M709.6 863.3V913.6M711.7 863.3V915.2M714.6 863.3V915.2M709.6 913.6Q710 915.2 711.7 915.2H714.6V912.6H718L718.6 918.4"/>
<path class="c" d="M655 888L719 888"/>
<path class="t" d="M719 888L963 888"/>
<path class="o" d="M841.8 796.4V977.2M863.3 796.4V977.2M841.8 796.4H863.3"/>
<path class="o" d="M847.4 796.4V771.4A3.8 3.8 0 0 1 855 771.4V796.4"/>
<path class="o" d="M843.9 796.4V792Q844 790.4 846 790.4H857.2Q859.2 790.4 859.2 792V796.4"/>
<path class="c" d="M851.2 771L851.2 812"/>
<circle class="o" cx="851.3" cy="825.1" r="5.6"/>
<path class="g" d="M843.5 825.1L859.5 825.1"/>
<path class="g" d="M851.3 817L851.3 833.4"/>
<circle class="o" cx="852.2" cy="950.8" r="4.9"/>
<path class="g" d="M845 950.8L859.6 950.8"/>
<path class="t" d="M863.3 825.1H869.6V949.4H863.3"/>
<path class="t" d="M863.3 843.2H870.5Q874.4 843.4 874.4 847V928Q874.4 931.9 870.5 932.1H841.8"/>
<path class="o" d="M841.8 843.2L863.3 843.2"/>
<path class="t" d="M863.3 848L869.6 848"/>
<path class="t" d="M863.3 925.8L869.6 925.8"/>
<path class="t" style="stroke:#111;stroke-width:1.1" d="M862.8 843.3L861.4 843.3Q856.2 852.8 861.4 862.4Q856.2 870.9 861.4 879.4Q856.2 888.0 861.4 896.5Q856.2 904.5 861.4 912.4Q856.2 922.1 861.4 931.9"/>
<path class="g" d="M841.8 853.8L864.8 853.8"/>
<path class="g" d="M841.8 862.4L864.8 862.4"/>
<path class="g" d="M841.8 871.1L864.8 871.1"/>
<path class="g" d="M841.8 879.4L864.8 879.4"/>
<path class="g" d="M841.8 896.5L864.8 896.5"/>
<path class="g" d="M841.8 904.8L864.8 904.8"/>
<path class="g" d="M841.8 912.4L864.8 912.4"/>
<path class="g" d="M841.8 921.8L864.8 921.8"/>
<circle class="k" cx="848.1" cy="888.1" r="7.2"/>
<circle class="o" cx="848.1" cy="888.1" r="3.6"/>
<path class="t" d="M874.4 862.4H962.9V913.2H874.4"/>
<path class="t" d="M876.5 862.4L876.5 913.2"/>
<path class="t" d="M878.6 873.8L878.6 913.2"/>
</g>
<g id="rb-dims">
<path class="t" d="M652.6 724L652.6 876"/>
<path class="t" d="M652.6 729L791.6 729"/>
<path class="f" d="M652.6 729.0L660.4 727.5L660.4 730.5Z"/>
<path class="f" d="M791.6 729.0L783.8 730.5L783.8 727.5Z"/>
<text class="lb" transform="translate(708.6 724) scale(0.72 1)" font-size="15.9" letter-spacing="2.22">V1</text>
<path class="t" d="M708.8 746.7L708.8 863.3"/>
<path class="t" d="M652.6 750.6L791.6 750.6"/>
<path class="f" d="M652.6 750.6L660.4 749.1L660.4 752.1Z"/>
<path class="f" d="M707.8 750.6L700.0 752.1L700.0 749.1Z"/>
<path class="f" d="M709.8 750.6L717.6 749.1L717.6 752.1Z"/>
<path class="f" d="M791.6 750.6L783.8 752.1L783.8 749.1Z"/>
<text class="lb" transform="translate(672 746.7) scale(0.689 1)" font-size="15.9" letter-spacing="2.32">Y1</text>
<text class="lb" transform="translate(736.4 746.7) scale(0.728 1)" font-size="15.9" letter-spacing="2.20">U1</text>
<path class="t" d="M634 825.9L726.4 825.9"/>
<path class="t" d="M635.4 951.2L722 951.2"/>
<path class="t" d="M744 951.2L750 951.2"/>
<path class="t" d="M639.1 826L639.1 950.8"/>
<path class="f" d="M639.1 826.2L640.6 834.0L637.6 834.0Z"/>
<path class="f" d="M639.1 950.6L637.6 942.8L640.6 942.8Z"/>
<text class="lb" transform="translate(632.8 892.2) rotate(-90) scale(0.81 1)" font-size="15.9" letter-spacing="0.00">S</text>
<text class="lb" transform="translate(666.4 920) scale(0.762 1)" font-size="15.9" letter-spacing="2.09">HSS</text>
<path class="t" d="M780.8 757.7L978.3 757.7"/>
<path class="t" d="M842.6 978.7L978.3 978.7"/>
<path class="t" d="M974.1 758L974.1 978.4"/>
<path class="f" d="M974.1 758.4L975.6 766.2L972.6 766.2Z"/>
<path class="f" d="M974.1 978.0L972.6 970.2L975.6 970.2Z"/>
<text class="lb" transform="translate(967.7 850.8) rotate(-90) scale(0.646 1)" font-size="15.9" letter-spacing="2.47">HO</text>
<text class="lb" transform="translate(901.3 933.2) scale(0.81 1)" font-size="15.9" letter-spacing="2.81">LSS</text>
<path class="t" d="M889.2 734.6L865.9 734.6"/>
<path class="t" d="M865.9 734.6L773.6 810.4"/>
<path class="f" d="M772.9 811.0L777.3 805.3L779.3 807.8Z"/>
<path class="t" d="M889.9 786.4L862.4 786.4"/>
<path class="t" d="M862.4 786.4L811.5 816.6"/>
<path class="f" d="M810.7 817.1L815.9 812.2L817.5 814.9Z"/>
<text class="lb" transform="translate(640.4 982.5) scale(0.81 1)" font-size="15.9" letter-spacing="0.00">4</text>
<text class="lb" transform="translate(654.1 982.1) scale(1 1)" font-size="13" letter-spacing="0.00">×</text>
<text class="lb" transform="translate(672.5 982.5) scale(0.675 1)" font-size="15.9" letter-spacing="2.38">TM</text>
<path class="t" d="M640.4 988.8L699.7 988.8"/>
<path class="t" d="M699.7 988.8L731.8 955.3"/>
<path class="f" d="M732.6 954.5L730.0 960.4L726.9 957.3Z"/>
<path class="t" d="M842.6 977.2L842.6 1002"/>
<path class="t" d="M863.3 977.2L863.3 1002"/>
<path class="t" d="M793.8 997.5L842.6 997.5"/>
<path class="f" d="M842.6 997.5L834.8 999.0L834.8 996.0Z"/>
<path class="t" d="M863.3 997.5L877.6 997.5"/>
<path class="f" d="M863.3 997.5L871.1 996.0L871.1 999.0Z"/>
<text class="lb" transform="translate(809 992.6) scale(0.758 1)" font-size="15.9" letter-spacing="2.11">KT</text>
<path class="t" d="M736 956L736 1019.8"/>
<path class="t" d="M852.4 956L852.4 1019.4"/>
<path class="t" d="M736 1017.6L852.4 1017.6"/>
<path class="f" d="M736.0 1017.6L743.8 1016.1L743.8 1019.1Z"/>
<path class="f" d="M852.4 1017.6L844.6 1019.1L844.6 1016.1Z"/>
<text class="lb" transform="translate(783 1014) scale(0.81 1)" font-size="15.9" letter-spacing="3.42">JE</text>
<text class="lb" transform="translate(789.4 1052.4) scale(0.81 1)" font-size="15.9" letter-spacing="0.00">X</text>
</g>
<g id="hss-end">
<circle class="o" cx="487.6" cy="901.8" r="25.8" style="stroke-width:1.7;stroke:#111"/>
<circle class="o" cx="487.2" cy="902" r="9" style="stroke-width:1.3;stroke:#111"/>
<circle class="o" cx="487.2" cy="902" r="5.9" style="stroke-width:1.3;stroke:#111"/>
<path class="g" d="M476.5 902L498 902"/>
<path class="g" d="M487.2 891L487.2 913"/>
<path class="t" d="M478.5 845L478.5 877.2"/>
<path class="t" d="M494.4 845L494.4 876.6"/>
<path class="t" d="M445 849.4L478.5 849.4"/>
<path class="f" d="M478.5 849.4L470.7 850.9L470.7 847.9Z"/>
<path class="t" d="M494.4 849.4L508 849.4"/>
<path class="f" d="M494.4 849.4L502.2 847.9L502.2 850.9Z"/>
<text class="lb" transform="translate(450.7 845) scale(0.81 1)" font-size="15.9" letter-spacing="2.31">b1</text>
<text class="lb" transform="translate(524.2 845) scale(0.661 1)" font-size="15.9" letter-spacing="2.42">m1</text>
<path class="t" d="M554.1 849.4L521 849.4"/>
<path class="t" d="M521 849.4L489.8 896.4"/>
<path class="f" d="M489.3 897.1L490.1 894.0L491.8 895.1Z"/>
<path class="t" d="M479 872.6L541 872.6"/>
<path class="t" d="M487.6 927.6L541 927.6"/>
<path class="t" d="M536.7 873L536.7 927.2"/>
<path class="f" d="M536.7 873.0L538.2 880.8L535.2 880.8Z"/>
<path class="f" d="M536.7 927.2L535.2 919.4L538.2 919.4Z"/>
<text class="lb" transform="translate(531.5 909.7) rotate(-90) scale(0.741 1)" font-size="15.9" letter-spacing="2.15">h1</text>
<path class="t" d="M461.5 905L461.5 960.6"/>
<path class="t" d="M513.7 905L513.7 960.6"/>
<path class="t" d="M461.5 955.4L513.7 955.4"/>
<path class="f" d="M461.5 955.4L469.3 953.9L469.3 956.9Z"/>
<path class="f" d="M513.7 955.4L505.9 956.9L505.9 953.9Z"/>
<text class="lb" transform="translate(471.4 949.3) scale(0.81 1)" font-size="15.9" letter-spacing="0.00">Ø</text>
<text class="lb" transform="translate(485.5 949.3) scale(0.775 1)" font-size="15.9" letter-spacing="2.06">d1</text>
<text class="lb" transform="translate(472 981.6) scale(0.759 1)" font-size="15.9" letter-spacing="2.10">HSS</text>
</g>
<g id="icons">
<rect class="ib" x="79.8" y="359.2" width="38.4" height="38.6" rx="3.2"/>
<rect class="ib" x="81.7" y="361.09999999999997" width="34.6" height="34.800000000000004" rx="1.8" style="stroke-width:.9"/>
<circle class="ig" cx="100.6" cy="378.5" r="14.8"/>
<path d="M104.6 368.4L93.4 378.3L104.9 389.6" fill="none" stroke="#555" stroke-width="2.2" stroke-linecap="butt" stroke-linejoin="round"/>
<path d="M104.6 368.4L93.4 378.3L104.9 389.6" fill="none" stroke="#fff" stroke-width="0.9" stroke-linecap="butt" stroke-linejoin="round"/>
<path class="ig" d="M104.6 368.4Q108.6 378.6 104.9 389.6M103.3 370.4Q100.2 378.2 104.4 385.6" style="stroke:#555"/>
<rect class="ib" x="207.4" y="686" width="38.4" height="37.8" rx="3.2"/>
<rect class="ib" x="209.3" y="687.9" width="34.6" height="34.0" rx="1.8" style="stroke-width:.9"/>
<path d="M223.3 691.4V699.2L218.8 704.3H213.6" fill="none" stroke="#555" stroke-width="2.2" stroke-linecap="butt" stroke-linejoin="round"/>
<path d="M223.3 691.4V699.2L218.8 704.3H213.6" fill="none" stroke="#fff" stroke-width="0.9" stroke-linecap="butt" stroke-linejoin="round"/>
<path d="M229.3 691.4V699.2L233.6 704.3H239.2" fill="none" stroke="#555" stroke-width="2.2" stroke-linecap="butt" stroke-linejoin="round"/>
<path d="M229.3 691.4V699.2L233.6 704.3H239.2" fill="none" stroke="#fff" stroke-width="0.9" stroke-linecap="butt" stroke-linejoin="round"/>
<path d="M225.6 704.4C223.5 708 221.2 711 221.3 713.6C221.5 716.6 223.6 718.4 226.4 718.4C229.3 718.4 231.5 716.4 231.5 713.4C231.4 710.6 228 707.5 225.6 704.4Z" fill="none" stroke="#555" stroke-width="2.1" stroke-linecap="butt" stroke-linejoin="round"/>
<path d="M225.6 704.4C223.5 708 221.2 711 221.3 713.6C221.5 716.6 223.6 718.4 226.4 718.4C229.3 718.4 231.5 716.4 231.5 713.4C231.4 710.6 228 707.5 225.6 704.4Z" fill="none" stroke="#fff" stroke-width="0.8" stroke-linecap="butt" stroke-linejoin="round"/>
<rect class="ib" x="884.4" y="369.2" width="37.5" height="37.7" rx="3.2"/>
<rect class="ib" x="886.3" y="371.09999999999997" width="33.7" height="33.900000000000006" rx="1.8" style="stroke-width:.9"/>
<path d="M890 388.3H895Q900.4 389 900.4 394V401.6M917.4 388.3H912.4Q907 389 907 394V401.6" fill="none" stroke="#8a8a8a" stroke-width="2" stroke-linecap="round"/>
<path d="M903.7 375.6C901.2 379.6 898.7 381.8 898.7 384.4C898.8 386.9 900.9 388.4 903.7 388.4C906.5 388.4 908.6 386.9 908.7 384.4C908.7 381.8 906.2 379.6 903.7 375.6Z" fill="none" stroke="#555" stroke-width="2.3" stroke-linecap="butt" stroke-linejoin="round"/>
<path d="M903.7 375.6C901.2 379.6 898.7 381.8 898.7 384.4C898.8 386.9 900.9 388.4 903.7 388.4C906.5 388.4 908.6 386.9 908.7 384.4C908.7 381.8 906.2 379.6 903.7 375.6Z" fill="none" stroke="#fff" stroke-width="1.0" stroke-linecap="butt" stroke-linejoin="round"/>
<rect class="ib" x="888.8" y="715.5" width="38.1" height="37.2" rx="3.2"/>
<rect class="ib" x="890.6999999999999" y="717.4" width="34.300000000000004" height="33.400000000000006" rx="1.8" style="stroke-width:.9"/>
<rect class="ig" x="902.2" y="724.3" width="19.5" height="20.2" rx="3" style="stroke:#555;stroke-width:1.3"/>
<path class="ig" d="M912 727.3C909.6 731.4 906.7 734 906.7 736.8C906.8 739.6 909 741.5 912 741.5C915 741.5 917.3 739.6 917.4 736.8C917.4 734 914.4 731.4 912 727.3Z" style="stroke:#444;stroke-width:1.1"/>
<path d="M899.6 722.4Q899 720 897 720.4Q895.2 721 896.6 723.4L897.2 727.4L895.2 729.4L896.4 731.4V746.4L897.5 748L898.6 746.4V731.4L899.8 729.4L897.9 727.4L897.6 723.6" fill="none" stroke="#222" stroke-width="1.1" stroke-linejoin="round"/>
<rect class="ib" x="889.5" y="764.7" width="38.2" height="36.8" rx="3.2"/>
<rect class="ib" x="891.4" y="766.6" width="34.400000000000006" height="33.0" rx="1.8" style="stroke-width:.9"/>
<path d="M897.5 787V775Q897.5 771.8 900.7 771.8H915.8Q919 771.8 919 775V787" fill="none" stroke="#555" stroke-width="2.6" stroke-linecap="butt" stroke-linejoin="round"/>
<path d="M897.5 787V775Q897.5 771.8 900.7 771.8H915.8Q919 771.8 919 775V787" fill="none" stroke="#fff" stroke-width="1.3" stroke-linecap="butt" stroke-linejoin="round"/>
<path d="M903.2 782.6V795.8M912.6 782.6V795.8M903.2 782.6Q902 781.8 901.4 783L900.2 788M912.6 782.6Q913.8 781.8 914.4 783L915.6 788" fill="none" stroke="#333" stroke-width="1.2" stroke-linecap="round"/>
<path class="ig" d="M900.2 788.6L896.6 789.2L893.3 791.4L896.4 793.4L899.8 791.2ZM915.8 788.4L919.4 789.2L922.6 791.2L919.6 793.2L916.2 791Z" style="stroke:#444;stroke-width:1"/>
</g>
</svg>
<div id="note1" class="abs">技术数据 11 页
<span style="letter-spacing:-1.1px">LSS</span>型号见下页</div>
<div id="note2" class="abs">插图仅仅作为例子<span style="margin-right:3px">,</span>不是严格的装配关系。<br>重量和油量仅是指导值。</div>
<div id="pg" class="abs">20</div>
</body>
</html>
